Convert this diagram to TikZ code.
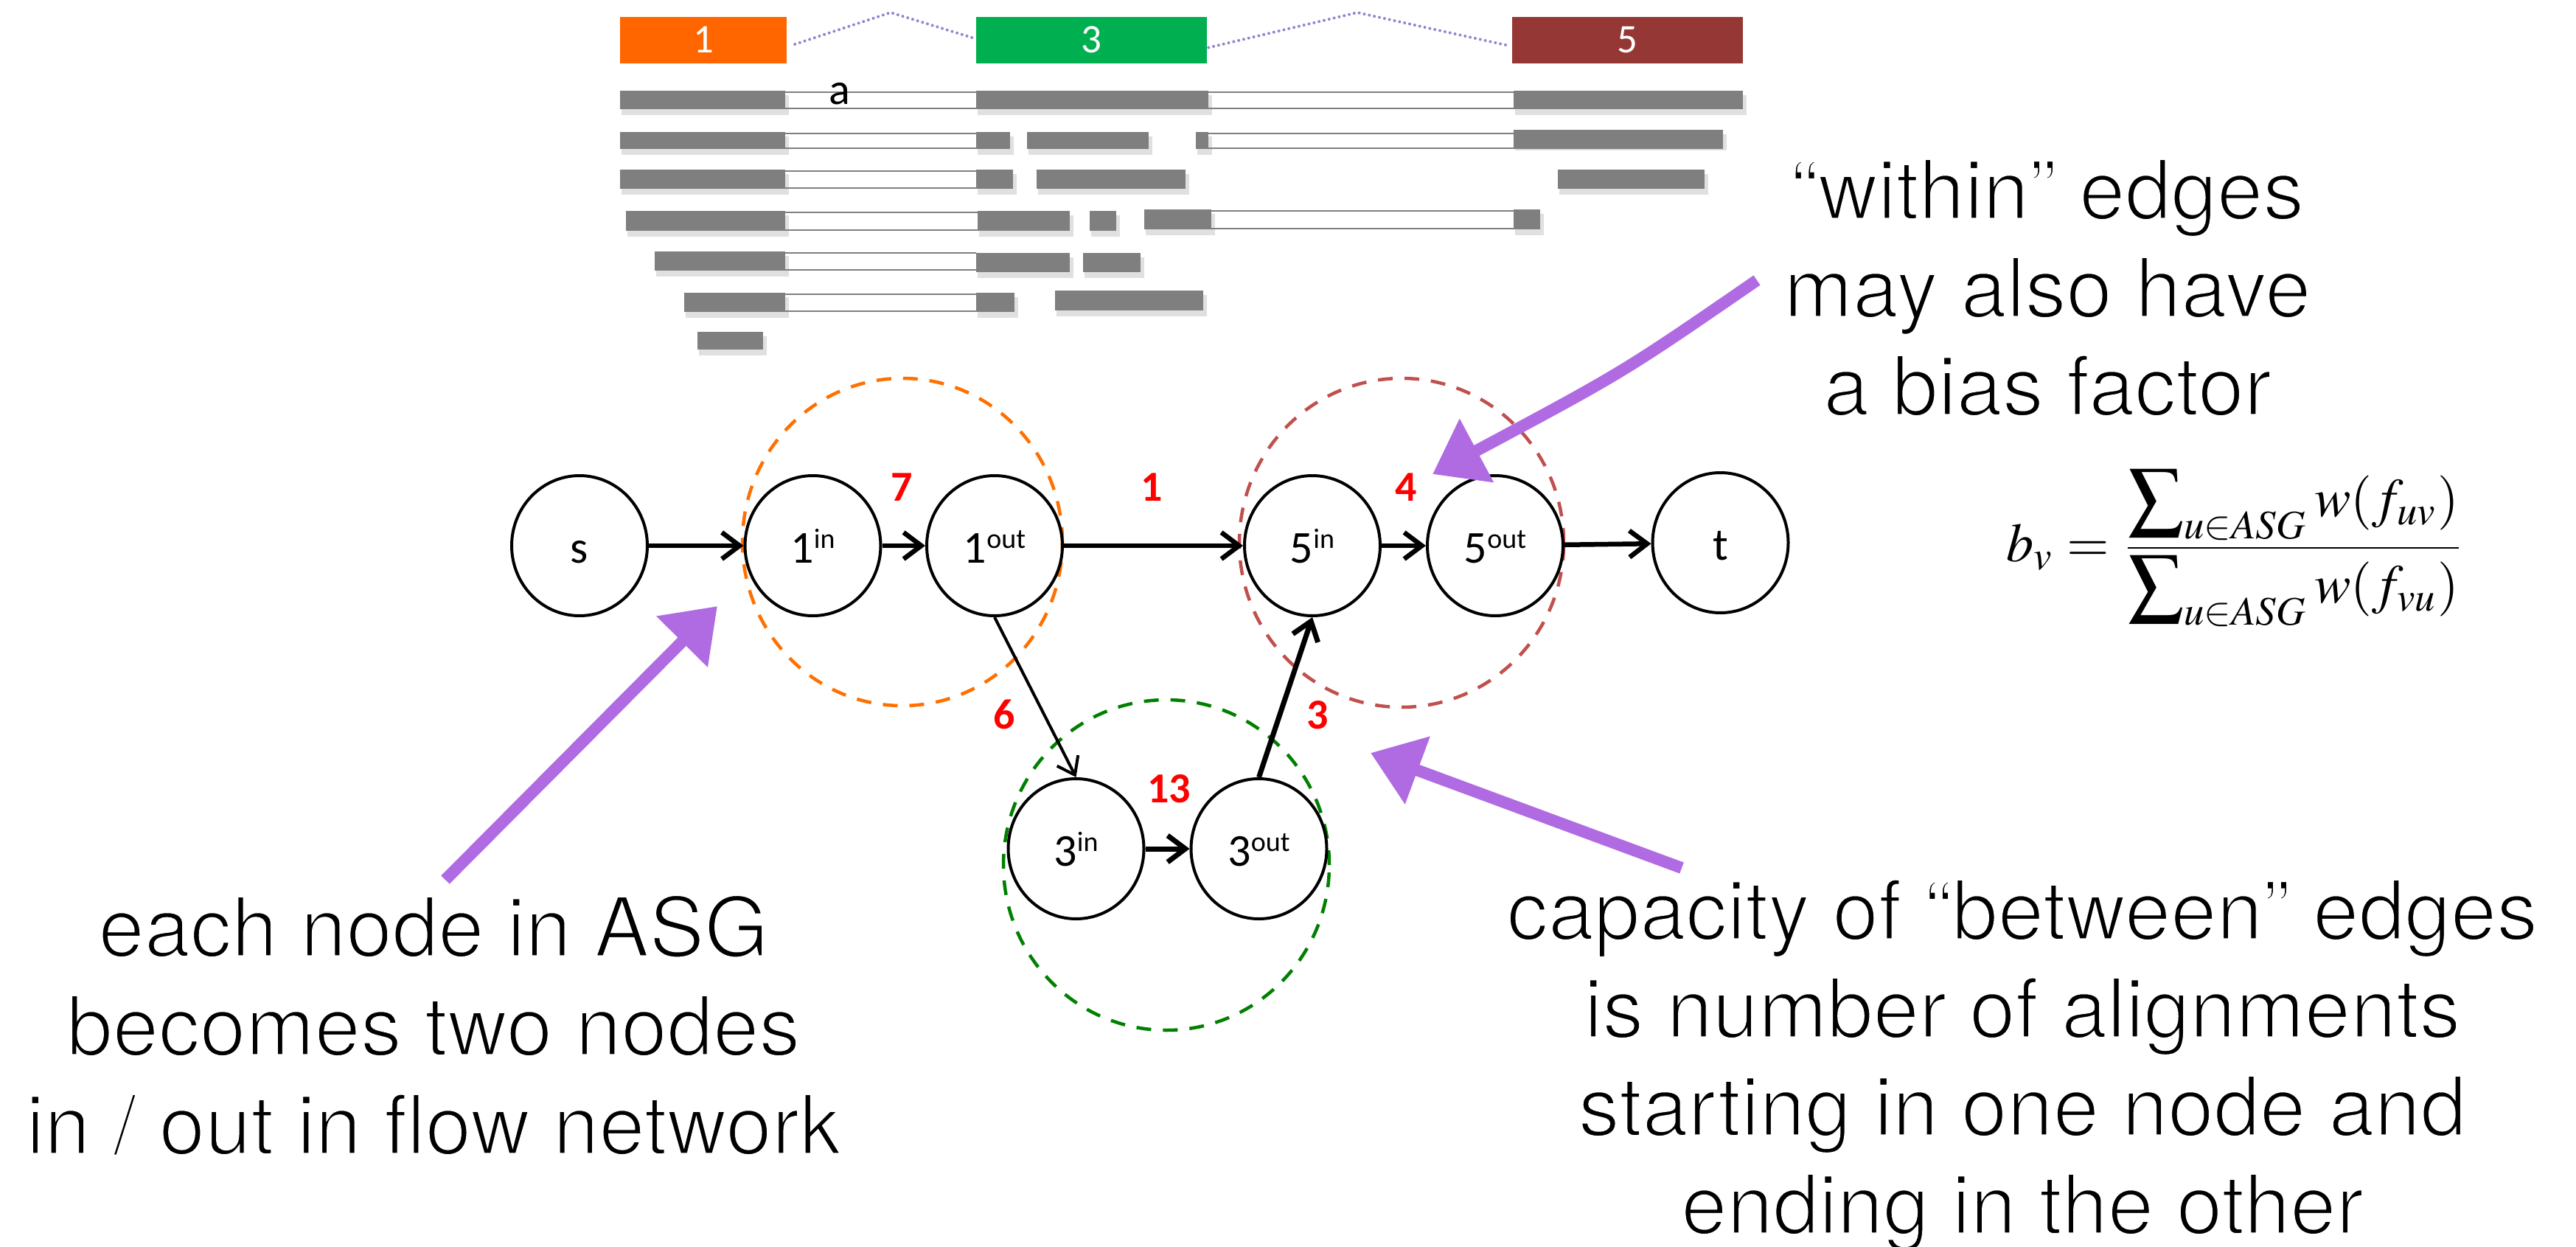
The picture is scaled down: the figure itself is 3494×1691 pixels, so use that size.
\documentclass[tikz,border=0pt]{standalone}
\usepackage{mathptmx}
\usepackage{fontspec}
\usepackage{graphicx}
\usetikzlibrary{arrows.meta,shapes.geometric}
\newfontfamily\calfont{Carlito}
\newfontfamily\helvfont{TeX Gyre Heros}
\definecolor{exgray}{RGB}{127,127,127}
\definecolor{exorange}{RGB}{255,102,0}
\definecolor{exgreen}{RGB}{0,176,80}
\definecolor{exbrown}{RGB}{149,55,53}
\definecolor{splicecol}{RGB}{150,130,205}
\definecolor{dorange}{RGB}{255,112,0}
\definecolor{dbrown}{RGB}{192,80,77}
\definecolor{dgreen}{RGB}{0,128,0}
\definecolor{chalk}{RGB}{177,107,226}
\definecolor{labred}{RGB}{255,0,0}

\tikzset{
  exon/.style={fill=exgray},
  exshadow/.style={fill=black, opacity=0.12},
  intronline/.style={draw=exgray, line width=2.7pt},
  exbox/.style={rectangle, inner sep=0pt, text=white, font=\calfont\fontsize{55}{56}\selectfont, text height=35pt, text depth=0pt},
  splice/.style={draw=splicecol, line width=4pt, line cap=round, dash pattern=on 0pt off 7pt},
  fnode/.style={ellipse, draw, line width=4pt, minimum width=184pt, minimum height=190pt, inner sep=0pt,
    font=\calfont\fontsize{62}{64}\selectfont, text height=46pt, text depth=0pt},
  flow/.style={line width=6.5pt, -{Straight Barb[length=24pt,width=36pt]}},
  thinflow/.style={line width=4pt, -{Straight Barb[length=22pt,width=32pt]}},
  elab/.style={text=labred, font=\calfont\bfseries\fontsize{58}{60}\selectfont, inner sep=0pt, text height=37pt, text depth=0pt},
  dashcirc/.style={line width=4.5pt, dash pattern=on 20pt off 16pt},
  big/.style={font=\helvfont\fontsize{112}{133}\selectfont, anchor=base, inner sep=0pt},
  chalkarrow/.style={draw=chalk, line width=16pt, -{Triangle[length=68pt,width=94pt]}},
}

\newcommand\readrow[4]{%
  \foreach \a/\c in {#3} {\fill[exshadow] (\a+2,#1+6) rectangle (\c+5,#2+8);}
  \foreach \a/\c in {#4} {
    \draw[intronline] (\a,#1+2) -- (\c,#1+2);
    \draw[intronline] (\a,#2-1) -- (\c,#2-1);
  }
  \foreach \a/\c in {#3} {\fill[exon] (\a,#1) rectangle (\c,#2);}
}
\newcommand\nsup[2]{#1{\fontsize{38}{40}\selectfont\raisebox{20pt}{#2}}}
\newcommand\lighttext[1]{\special{pdf:literal direct 2 Tr 1 1 1 RG 3.2 w}#1\special{pdf:literal direct 0 Tr 0 0 0 RG}}

\begin{document}
\begin{tikzpicture}[x=1pt,y=-1pt]
\useasboundingbox (0,0) rectangle (3494,1691);

% ---------- exon header ----------
\node[exbox, fill=exorange, minimum width=226pt, minimum height=63pt] (E1) at (954,54.5) {1};
\node[exbox, fill=exgreen, minimum width=313pt, minimum height=63pt] (E3) at (1480.5,54.5) {3};
\node[exbox, fill=exbrown, minimum width=313pt, minimum height=63pt] (E5) at (2207.5,54.5) {5};
\coordinate (P1) at (1208,17);
\coordinate (P2) at (1841,17);
\draw[splice] ([xshift=11pt,yshift=-5.5pt]E1.east) -- (P1) -- ([xshift=-2pt,yshift=2.5pt]E3.west);
\draw[splice] ([xshift=2pt,yshift=-10pt]E3.east) -- (P2) -- ([xshift=-4pt,yshift=-7.5pt]E5.west);

% ---------- reads ----------
\readrow{123}{148}{841/1065,1324/1639,2053/2364}{1065/1324,1639/2053}
\readrow{179}{202}{841/1065,1324/1370,1393/1558,1622/1639}{1065/1324,1639/2053}
\fill[exshadow] (2055,182) rectangle (2342,204);
\fill[exon] (2053,176) rectangle (2337,202);
\readrow{230}{256}{841/1065,1324/1374,1406/1608,2113/2312}{1065/1324}
\readrow{286}{313}{849/1065,1326/1451,1478/1514}{1065/1326}
\readrow{284}{311}{1552/1643,2053/2089}{1643/2053}
\readrow{341}{367}{888/1065}{1065/1324}
\fill[exshadow] (1326,349) rectangle (1456,377);
\fill[exshadow] (1471,349) rectangle (1552,377);
\fill[exon] (1324,343) rectangle (1451,369);
\fill[exon] (1469,343) rectangle (1547,369);
\readrow{397}{423}{928/1065,1324/1376}{1065/1324}
\fill[exshadow] (1433,400) rectangle (1637,429);
\fill[exon] (1431,394) rectangle (1632,421);
\fill[exshadow] (948,456) rectangle (1040,482);
\fill[exon] (946,450) rectangle (1035,474);
\node[anchor=base, inner sep=0pt, font=\calfont\fontsize{60}{60}\selectfont] (rdlab) at (1139,142) {a};

% ---------- dashed groups ----------
\draw[dashcirc, draw=dorange] (1224,735) ellipse [x radius=217pt, y radius=222pt];
\draw[dashcirc, draw=dbrown] (1901,736) ellipse [x radius=220pt, y radius=223pt];
\draw[dashcirc, draw=dgreen] (1582,1173) ellipse [x radius=221pt, y radius=224pt];

% ---------- flow network ----------
\node[fnode] (ns) at (786,740) {s};
\node[fnode] (n1i) at (1102.5,740) {\nsup{1}{in}};
\node[fnode] (n1o) at (1349,740) {\nsup{1}{out}};
\node[fnode] (n5i) at (1780,740) {\nsup{5}{in}};
\node[fnode] (n5o) at (2028,740) {\nsup{5}{out}};
\node[fnode] (nt) at (2333.5,736) {t};
\node[fnode] (n3i) at (1459.5,1151) {\nsup{3}{in}};
\node[fnode] (n3o) at (1707.5,1151) {\nsup{3}{out}};

\draw[flow] (ns) -- (n1i);
\draw[flow] (n1i) -- (n1o) node[elab, midway, above=57pt, xshift=-3pt] {7};
\draw[flow] (n1o) -- (n5i) node[elab, midway, above=57pt, xshift=-2pt] {1};
\draw[flow] (n5i) -- (n5o) node[elab, midway, above=57pt, xshift=3pt] {4};
\draw[flow] (n5o) -- (nt);
\draw[thinflow] (n1o.south) -- (n3i.north) node[elab, midway, xshift=-42pt, yshift=-24pt] {6};
\draw[flow, line width=7pt] (n3o.north) -- (n5i.south) node[elab, midway, xshift=43pt, yshift=-24pt] {3};
\draw[flow, line width=7pt] (n3i) -- (n3o) node[elab, midway, above=59pt, xshift=2pt] {13};

% ---------- formula ----------
\node[inner sep=0pt] (bias) at (3033,743) {\resizebox{622pt}{!}{$\displaystyle b_v=\frac{\displaystyle\sum\nolimits_{u\in ASG}w(f_{uv})}{\displaystyle\sum\nolimits_{u\in ASG}w(f_{vu})}$}};

% ---------- annotations ----------
\node[big] (la) at (588,1297) {\lighttext{each node in ASG}};
\node[big] (lb) at (588,1431) {\lighttext{becomes two nodes}};
\node[big] (lc) at (588,1565) {\lighttext{in / out in flow network}};
\node[big] (ra) at (2777,297) {\lighttext{“within” edges}};
\node[big] (rb) at (2777,430) {\lighttext{may also have}};
\node[big] (rc) at (2777,563) {\lighttext{a bias factor}};
\node[big] (ba) at (2743,1274) {\lighttext{capacity of “between” edges}};
\node[big] (bb) at (2743,1407) {\lighttext{is number of alignments}};
\node[big] (bc) at (2743,1540) {\lighttext{starting in one node and}};
\node[big] (bd) at (2743,1673) {\lighttext{ending in the other}};

\coordinate (A1tail) at (604,1193);
\coordinate (A1tip) at (973,822);
\coordinate (A2tail) at (2383,380);
\coordinate (A2tip) at (1943,643);
\coordinate (A3tail) at (2281,1177);
\coordinate (A3tip) at (1859,1021);
\draw[chalkarrow] (A1tail) -- (A1tip);
\draw[chalkarrow] (A2tail) .. controls (2203,504) .. (A2tip);
\draw[chalkarrow] (A3tail) -- (A3tip);
\end{tikzpicture}
\end{document}
